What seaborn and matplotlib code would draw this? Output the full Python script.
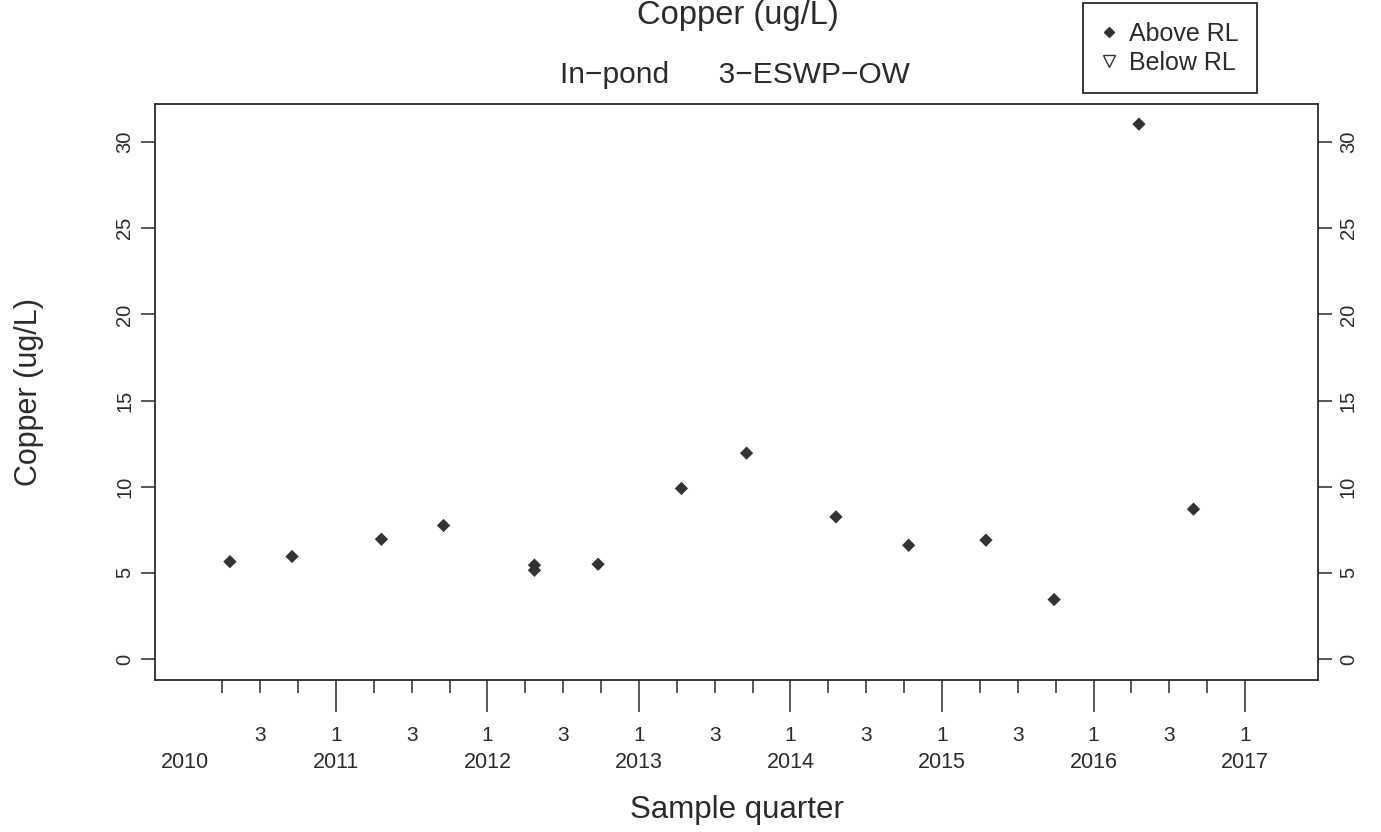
import matplotlib
matplotlib.use("Agg")
import numpy as np
import pandas as pd
import matplotlib.pyplot as plt
from matplotlib.lines import Line2D
import seaborn as sns

# sample dates (decimal year) and copper results (ug/L)
sample_year = [2010.30, 2010.71, 2011.30, 2011.71, 2012.31, 2012.31, 2012.73,
               2013.28, 2013.71, 2014.30, 2014.78, 2015.29, 2015.74, 2016.30, 2016.66]
copper = [5.65, 5.95, 6.95, 7.75, 5.45, 5.15, 5.5,
          9.9, 11.95, 8.25, 6.6, 6.9, 3.45, 31.05, 8.7]
detect = ["Above RL"] * len(copper)

year_ticks = [2011, 2012, 2013, 2014, 2015, 2016, 2017]
quarter_ticks = [q for q in np.arange(2010.25, 2017.01, 0.25) if q % 1 != 0]
quarter_label_pos = [2010.5, 2011, 2011.5, 2012, 2012.5, 2013, 2013.5, 2014,
                     2014.5, 2015, 2015.5, 2016, 2016.5, 2017]
quarter_labels = ["3", "1", "3", "1", "3", "1", "3", "1", "3", "1", "3", "1", "3", "1"]
year_label_pos = [2010, 2011, 2012, 2013, 2014, 2015, 2016, 2017]
year_labels = ["2010", "2011", "2012", "2013", "2014", "2015", "2016", "2017"]
y_ticks = [0, 5, 10, 15, 20, 25, 30]

df = pd.DataFrame({"year": sample_year, "copper": copper, "detect": detect})

sns.set_style("ticks")
plt.rcParams["font.family"] = ["Liberation Sans", "DejaVu Sans"]
ink = "#2b2b2b"

fig = plt.figure(figsize=(13.81, 8.32), dpi=100)
ax = fig.add_axes([0.1122, 0.1827, 0.8422, 0.6923])

sns.scatterplot(data=df, x="year", y="copper", marker="D", color="#333333",
                s=46, edgecolor="none", legend=False, ax=ax)

ax.set_xlim(2009.805, 2017.482)
ax.set_ylim(-1.22, 32.22)

for s in ax.spines.values():
    s.set_visible(True)
    s.set_color(ink)
    s.set_linewidth(1.3)

ax.set_xticks(year_ticks)
ax.set_xticks(quarter_ticks, minor=True)
ax.tick_params(axis="x", which="major", length=23, width=1.1, color=ink,
               labelbottom=False)
ax.tick_params(axis="x", which="minor", length=9.5, width=1.1, color=ink)

for pos, lab in zip(quarter_label_pos, quarter_labels):
    ax.text(pos, -0.097, lab, transform=ax.get_xaxis_transform(),
            ha="center", va="center", fontsize=15, color=ink)
for pos, lab in zip(year_label_pos, year_labels):
    ax.text(pos, -0.144, lab, transform=ax.get_xaxis_transform(),
            ha="center", va="center", fontsize=15.5, color=ink)

ax.set_yticks(y_ticks)
ax.set_yticklabels([str(v) for v in y_ticks])
ax.tick_params(axis="y", which="major", length=10, width=1.1, color=ink,
               labelsize=14.5, labelcolor=ink, labelrotation=90, pad=5,
               left=True, right=True, labelleft=True, labelright=True)
for lab in ax.get_yticklabels():
    lab.set_va("center")

ax.set_xlabel("Sample quarter", fontsize=22.5, color=ink)
ax.xaxis.set_label_coords(0.5, -0.2)
ax.set_ylabel("Copper (ug/L)", fontsize=22, color=ink)
ax.yaxis.set_label_coords(-0.095, 0.5)

fig.text(0.534, 0.981, "Copper (ug/L)", ha="center", va="center",
         fontsize=23.5, color=ink)
fig.text(0.532, 0.910, "In\u2212pond      3\u2212ESWP\u2212OW", ha="center",
         va="center", fontsize=21.5, color=ink)

handles = [
    Line2D([], [], marker="D", color="#333333", linestyle="none", markersize=5),
    Line2D([], [], marker="v", markerfacecolor="none", markeredgecolor="#333333",
           linestyle="none", markersize=9),
]
leg = fig.legend(handles, ["Above RL", "Below RL"], loc="upper left",
                 bbox_to_anchor=(0.784, 0.996), borderaxespad=0, fontsize=18,
                 frameon=True, fancybox=False, framealpha=1, edgecolor=ink,
                 handlelength=0.6, handletextpad=0.5, borderpad=0.75,
                 labelspacing=0.18, labelcolor=ink)
leg.get_frame().set_linewidth(1.3)

fig.savefig("out.png", dpi=100, facecolor="white")
